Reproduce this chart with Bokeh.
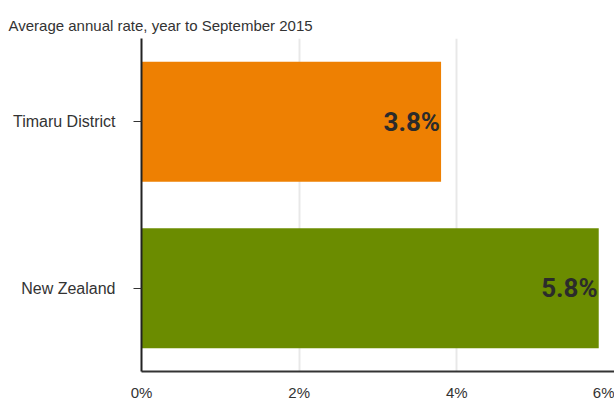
from bokeh.plotting import figure
from bokeh.models import ColumnDataSource, FactorRange, Range1d, FixedTicker, Title
from bokeh.core.properties import value
from bokeh.embed import file_html
from bokeh.resources import INLINE

categories = ["New Zealand", "Timaru District"]
rates = [5.8, 3.8]
bar_colors = ["#6b8c00", "#ee8002"]
rate_labels = ["5.8%", "3.8%"]
x_ticks = [0, 2, 4, 6]
x_tick_labels = {0: "0%", 2: "2%", 4: "4%", 6: "6%"}
title_text = "Average annual rate, year to September 2015"

src = ColumnDataSource(dict(cat=categories, rate=rates, color=bar_colors, lab=rate_labels))

p = figure(width=614, height=403, output_backend="svg", toolbar_location=None,
           y_range=FactorRange(*categories), x_range=Range1d(0, 6.0),
           min_border_left=141, min_border_right=0, min_border_top=38, min_border_bottom=0)
p.outline_line_color = None
p.background_fill_color = "white"

p.hbar(y="cat", right="rate", left=0, height=0.72, color="color", source=src, line_color=None)
p.text(x="rate", y="cat", text="lab", source=src, text_align="right", text_baseline="middle",
       x_offset=-1, text_font=value("Roboto"),
       text_font_style="bold", text_font_size="26px", text_color="#2b2b2b")

t = Title(text=title_text, align="left", offset=-133, text_font="Liberation Sans",
          text_font_size="15px", text_font_style="normal", text_color="#333333")
p.add_layout(t, "above")

p.xgrid.grid_line_color = "#e8e8e8"
p.xgrid.grid_line_width = 2
p.ygrid.grid_line_color = None

p.xaxis.ticker = FixedTicker(ticks=x_ticks)
p.xaxis.major_label_overrides = x_tick_labels
p.xaxis.major_tick_line_color = None
p.xaxis.major_tick_out = 0
p.xaxis.major_tick_in = 0
p.xaxis.minor_tick_line_color = None
p.xaxis.axis_line_color = "#333333"
p.xaxis.axis_line_width = 2
p.xaxis.major_label_standoff = 12
p.xaxis.major_label_text_font = "Liberation Sans"
p.xaxis.major_label_text_font_size = "15px"
p.xaxis.major_label_text_color = "#333333"

p.yaxis.axis_line_color = "#222222"
p.yaxis.axis_line_width = 2
p.yaxis.major_tick_out = 8
p.yaxis.major_tick_in = 0
p.yaxis.major_tick_line_color = "#333333"
p.yaxis.major_tick_line_width = 1
p.yaxis.major_label_standoff = 18
p.yaxis.major_label_text_font = "Liberation Sans"
p.yaxis.major_label_text_font_size = "16px"
p.yaxis.major_label_text_color = "#333333"

open("out.html", "w").write(file_html(p, INLINE))
